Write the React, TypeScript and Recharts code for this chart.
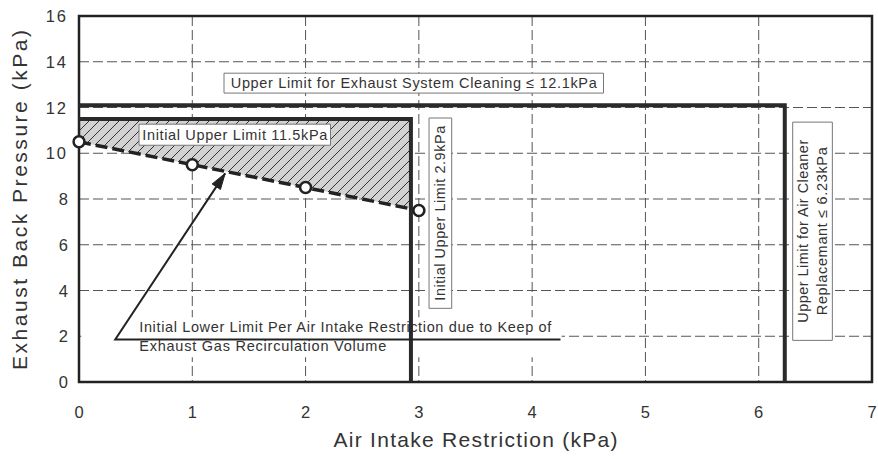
import React from 'react';
import { ComposedChart, Area, Line, XAxis, YAxis, CartesianGrid, ReferenceArea } from 'recharts';

// values
const xTicks = [0, 1, 2, 3, 4, 5, 6, 7];
const yTicks = [0, 2, 4, 6, 8, 10, 12, 14, 16];

const measuredX = [0, 1, 2, 3];
const lowerLimit = [10.5, 9.5, 8.5, 7.5];

const hatchX = [0, 1, 2, 2.93];
const hatchLow = [10.5, 9.5, 8.5, 7.58];
const initialUpperY = 11.5;
const initialUpperX = 2.93;

const cleaningLimitY = 12.1;
const cleanerLimitX = 6.23;

const arrowX = [1.29, 0.32, 4.25];
const arrowY = [9.12, 1.86, 1.86];

const hatchData = hatchX.map((x, i) => ({ x, range: [hatchLow[i], initialUpperY] }));
const lowerData = measuredX.map((x, i) => ({ x, y: lowerLimit[i] }));
const initialUpperData = [
  { x: 0, y: initialUpperY },
  { x: initialUpperX, y: initialUpperY },
  { x: initialUpperX, y: 0 },
];
const cleaningData = [
  { x: 0, y: cleaningLimitY },
  { x: cleanerLimitX, y: cleaningLimitY },
  { x: cleanerLimitX, y: 0 },
];
const arrowData = arrowX.map((x, i) => ({ x, y: arrowY[i] }));

const FONT = '"Liberation Sans", Arial, Helvetica, sans-serif';
const INK = '#222';
const TXT = '#333';

const XTick = ({ x, y, payload }: any) => (
  <text x={x} y={y} textAnchor="middle" dominantBaseline="central" fontFamily={FONT} fontSize={16.5} fill={TXT}>
    {payload.value}
  </text>
);

const YTick = ({ x, y, payload }: any) => {
  const s = String(payload.value);
  return (
    <text x={x} y={y} textAnchor="end" dominantBaseline="central" fontFamily={FONT} fontSize={16.5} fill={TXT}
      letterSpacing={s.length > 1 ? 2 : 0}>{s}</text>
  );
};

// text centred in a ReferenceArea box, optionally rotated
const boxText = (lines: string[], lengths: number[], vertical = false, gap = 19) => (props: any) => {
  const { x, y, width, height } = props.viewBox;
  const cx = x + width / 2;
  const cy = y + height / 2;
  const n = lines.length;
  return (
    <g transform={vertical ? `rotate(-90 ${cx} ${cy})` : undefined}>
      {lines.map((t, i) => (
        <text key={i} x={cx} y={cy + (i - (n - 1) / 2) * gap} textAnchor="middle" dominantBaseline="central"
          fontFamily={FONT} fontSize={14.5} fill={TXT} textLength={lengths[i]} lengthAdjust="spacing">{t}</text>
      ))}
    </g>
  );
};

const lowerText = (props: any) => {
  const { x, y, height } = props.viewBox;
  const cy = y + height / 2;
  return (
    <g>
      <text x={x + 58} y={cy - 10} dominantBaseline="central" fontFamily={FONT} fontSize={14.5} fill={TXT}
        textLength={412} lengthAdjust="spacing">Initial Lower Limit Per Air Intake Restriction due to Keep of</text>
      <text x={x + 58} y={cy + 9} dominantBaseline="central" fontFamily={FONT} fontSize={14.5} fill={TXT}
        textLength={247} lengthAdjust="spacing">Exhaust Gas Recirculation Volume</text>
    </g>
  );
};

const arrowHead = (p: any) => {
  const { cx, cy, index, points } = p;
  if (index !== 0) return <g key={`ah-${index}`} />;
  let ang = Math.atan2(-166, 110);
  if (points && points[1] && points[1].y != null) ang = Math.atan2(cy - points[1].y, cx - points[1].x);
  const len = 16;
  const w = 5;
  const bx = cx - len * Math.cos(ang);
  const by = cy - len * Math.sin(ang);
  const px = -Math.sin(ang) * w;
  const py = Math.cos(ang) * w;
  return (
    <polygon key="ah" points={`${cx},${cy} ${bx + px},${by + py} ${bx - px},${by - py}`} fill={INK} stroke={INK}
      strokeWidth={1} />
  );
};

const XTitle = (props: any) => {
  const { x, y, width } = props.viewBox;
  return (
    <text x={x + width / 2} y={y + 65} textAnchor="middle" fontFamily={FONT} fontSize={21} fill={TXT}
      textLength={284} lengthAdjust="spacing">Air Intake Restriction (kPa)</text>
  );
};

const YTitle = (props: any) => {
  const { y, height } = props.viewBox;
  const cy = y + height / 2 + 1;
  return (
    <text x={27} y={cy} transform={`rotate(-90 27 ${cy})`} textAnchor="middle" fontFamily={FONT} fontSize={21} fill={TXT}
      textLength={340} lengthAdjust="spacing">Exhaust Back Pressure (kPa)</text>
  );
};

export default function App() {
  return (
    <div style={{ position: 'absolute', left: 0, top: 0, background: '#fff' }}>
      <ComposedChart width={878} height={459} data={hatchData} margin={{ top: 16, right: 6, bottom: 17, left: 0 }}>
        <defs>
          <pattern id="hatch" patternUnits="userSpaceOnUse" width={10} height={10}>
            <rect width={10} height={10} fill="#d2d2d2" />
            <path d="M0,10 L10,0 M-2,2 L2,-2 M8,12 L12,8" stroke="#333" strokeWidth={1} />
          </pattern>
        </defs>
        <CartesianGrid stroke="#555" strokeDasharray="10 4" strokeWidth={1} />
        <XAxis type="number" dataKey="x" domain={[0, 7]} ticks={xTicks} allowDataOverflow height={60}
          axisLine={false} tickLine={false} tickSize={0} tickMargin={30} tick={<XTick />} label={<XTitle />} />
        <YAxis type="number" domain={[0, 16]} ticks={yTicks} allowDataOverflow width={79}
          axisLine={false} tickLine={false} tickSize={0} tickMargin={11} tick={<YTick />} label={<YTitle />} />
        <Area type="linear" dataKey="range" stroke="none" fill="url(#hatch)" fillOpacity={1} isAnimationActive={false}
          dot={false} activeDot={false} />
        <Line data={cleaningData} type="linear" dataKey="y" stroke="#2a2a2a" strokeWidth={4} dot={false}
          activeDot={false} isAnimationActive={false} strokeLinejoin="miter" />
        <Line data={initialUpperData} type="linear" dataKey="y" stroke="#2a2a2a" strokeWidth={4} dot={false}
          activeDot={false} isAnimationActive={false} strokeLinejoin="miter" />
        <ReferenceArea x1={0} x2={7} y1={0} y2={16} fill="none" stroke={INK} strokeWidth={2.5} ifOverflow="visible" />
        <ReferenceArea x1={1.28} x2={4.63} y1={12.63} y2={13.5} fill="#fff" fillOpacity={1} stroke="#777" strokeWidth={1}
          ifOverflow="visible"
          label={boxText(['Upper Limit for Exhaust System Cleaning \u2264 12.1kPa'], [366])} />
        <ReferenceArea x1={0.53} x2={2.22} y1={10.35} y2={11.27} fill="#fff" fillOpacity={1} stroke="#777" strokeWidth={1}
          ifOverflow="visible" label={boxText(['Initial Upper Limit 11.5kPa'], [185])} />
        <ReferenceArea x1={3.09} x2={3.29} y1={3.22} y2={11.54} fill="#fff" fillOpacity={1} stroke="#777" strokeWidth={1}
          ifOverflow="visible" label={boxText(['Initial Upper Limit 2.9kPa'], [175], true)} />
        <ReferenceArea x1={6.3} x2={6.65} y1={1.82} y2={11.36} fill="#fff" fillOpacity={1} stroke="#777" strokeWidth={1}
          ifOverflow="visible"
          label={boxText(['Upper Limit for Air Cleaner', 'Replacemant \u2264 6.23kPa'], [183, 168], true, 18.5)} />
        <ReferenceArea x1={0.02} x2={4.26} y1={1.08} y2={2.83} fill="#fff" fillOpacity={1} stroke="none"
          ifOverflow="visible" label={lowerText} />
        <Line data={lowerData} type="linear" dataKey="y" stroke={INK} strokeWidth={3.5} strokeDasharray="12 5"
          dot={{ r: 5.5, fill: '#fff', stroke: INK, strokeWidth: 2.6, strokeDasharray: 'none', clipDot: false }}
          activeDot={false} isAnimationActive={false} />
        <Line data={arrowData} type="linear" dataKey="y" stroke={INK} strokeWidth={2} dot={arrowHead}
          activeDot={false} isAnimationActive={false} />
      </ComposedChart>
    </div>
  );
}
